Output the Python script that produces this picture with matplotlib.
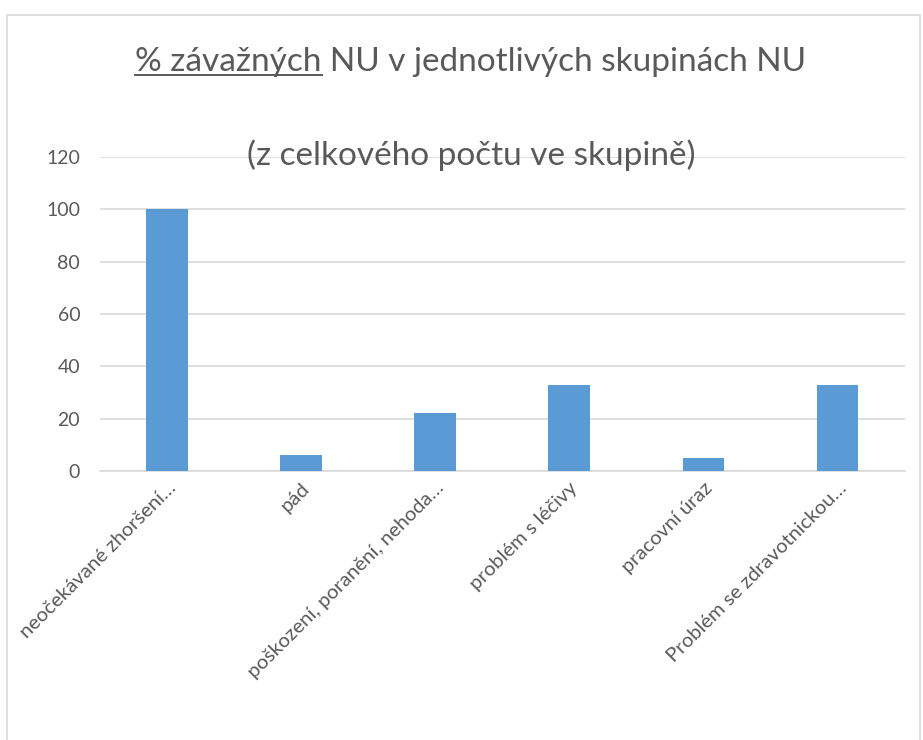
import matplotlib
matplotlib.use("Agg")
import matplotlib.pyplot as plt
from matplotlib.patches import Rectangle
from matplotlib.lines import Line2D

# data
categories = ["neočekávané zhoršení…", "pád", "poškození, poranění, nehoda…",
              "problém s léčivy", "pracovní úraz", "Problém se zdravotnickou…"]
values = [100, 6, 22, 33, 5, 33]
yticks = [0, 20, 40, 60, 80, 100, 120]

title_under = "% závažných"
title_rest = " NU v jednotlivých skupinách NU"
subtitle = "(z celkového počtu ve skupině)"

plt.rcParams['font.family'] = ['Lato', 'DejaVu Sans']
grey = '#595959'

fig = plt.figure(figsize=(9.23, 7.4), dpi=100)
ax = fig.add_axes([0.108, 0.3635, 0.872, 0.4243])

x = list(range(len(categories)))
ax.bar(x, values, width=0.31, color='#5B9BD5', zorder=3)
ax.set_ylim(0, 120)
ax.set_xlim(-0.5, len(categories) - 0.5)
ax.set_yticks(yticks)
ax.yaxis.grid(True, color='#D9D9D9', linewidth=1.2, zorder=0)
ax.tick_params(axis='y', length=0, pad=14, labelsize=14, labelcolor=grey)
ax.tick_params(axis='x', length=0, pad=6)
ax.set_xticks(x)
ax.set_xticklabels(categories, rotation=45, ha='right', va='top',
                   rotation_mode='anchor', fontsize=14.6, color=grey)
for s in ['left', 'right', 'top']:
    ax.spines[s].set_visible(False)
ax.spines['bottom'].set_color('#D9D9D9')
ax.spines['bottom'].set_linewidth(1.2)

# title with underlined first part
tprops = dict(fontsize=24, color=grey, ha='center', va='center')
t = fig.text(0.51, 1 - 62 / 740, title_under + title_rest, **tprops)
fig.text(0.511, 1 - 155 / 740, subtitle, **tprops)
fig.canvas.draw()
r = fig.canvas.get_renderer()
bb = t.get_window_extent(r)
tmp = fig.text(0, 0, title_under, fontsize=24)
w = tmp.get_window_extent(r).width
tmp.remove()
uy = bb.y0 + 2
fig.add_artist(Line2D([bb.x0, bb.x0 + w], [uy, uy], transform=None,
                      color=grey, linewidth=1.4))

# chart frame (bottom edge runs off the image)
fig.add_artist(Rectangle((7 / 923, -0.01), 913 / 923, 1.01 - 15 / 740,
                         transform=fig.transFigure, fill=False,
                         edgecolor='#D9D9D9', linewidth=1.2))

fig.savefig("out.png", dpi=100, facecolor='white')
